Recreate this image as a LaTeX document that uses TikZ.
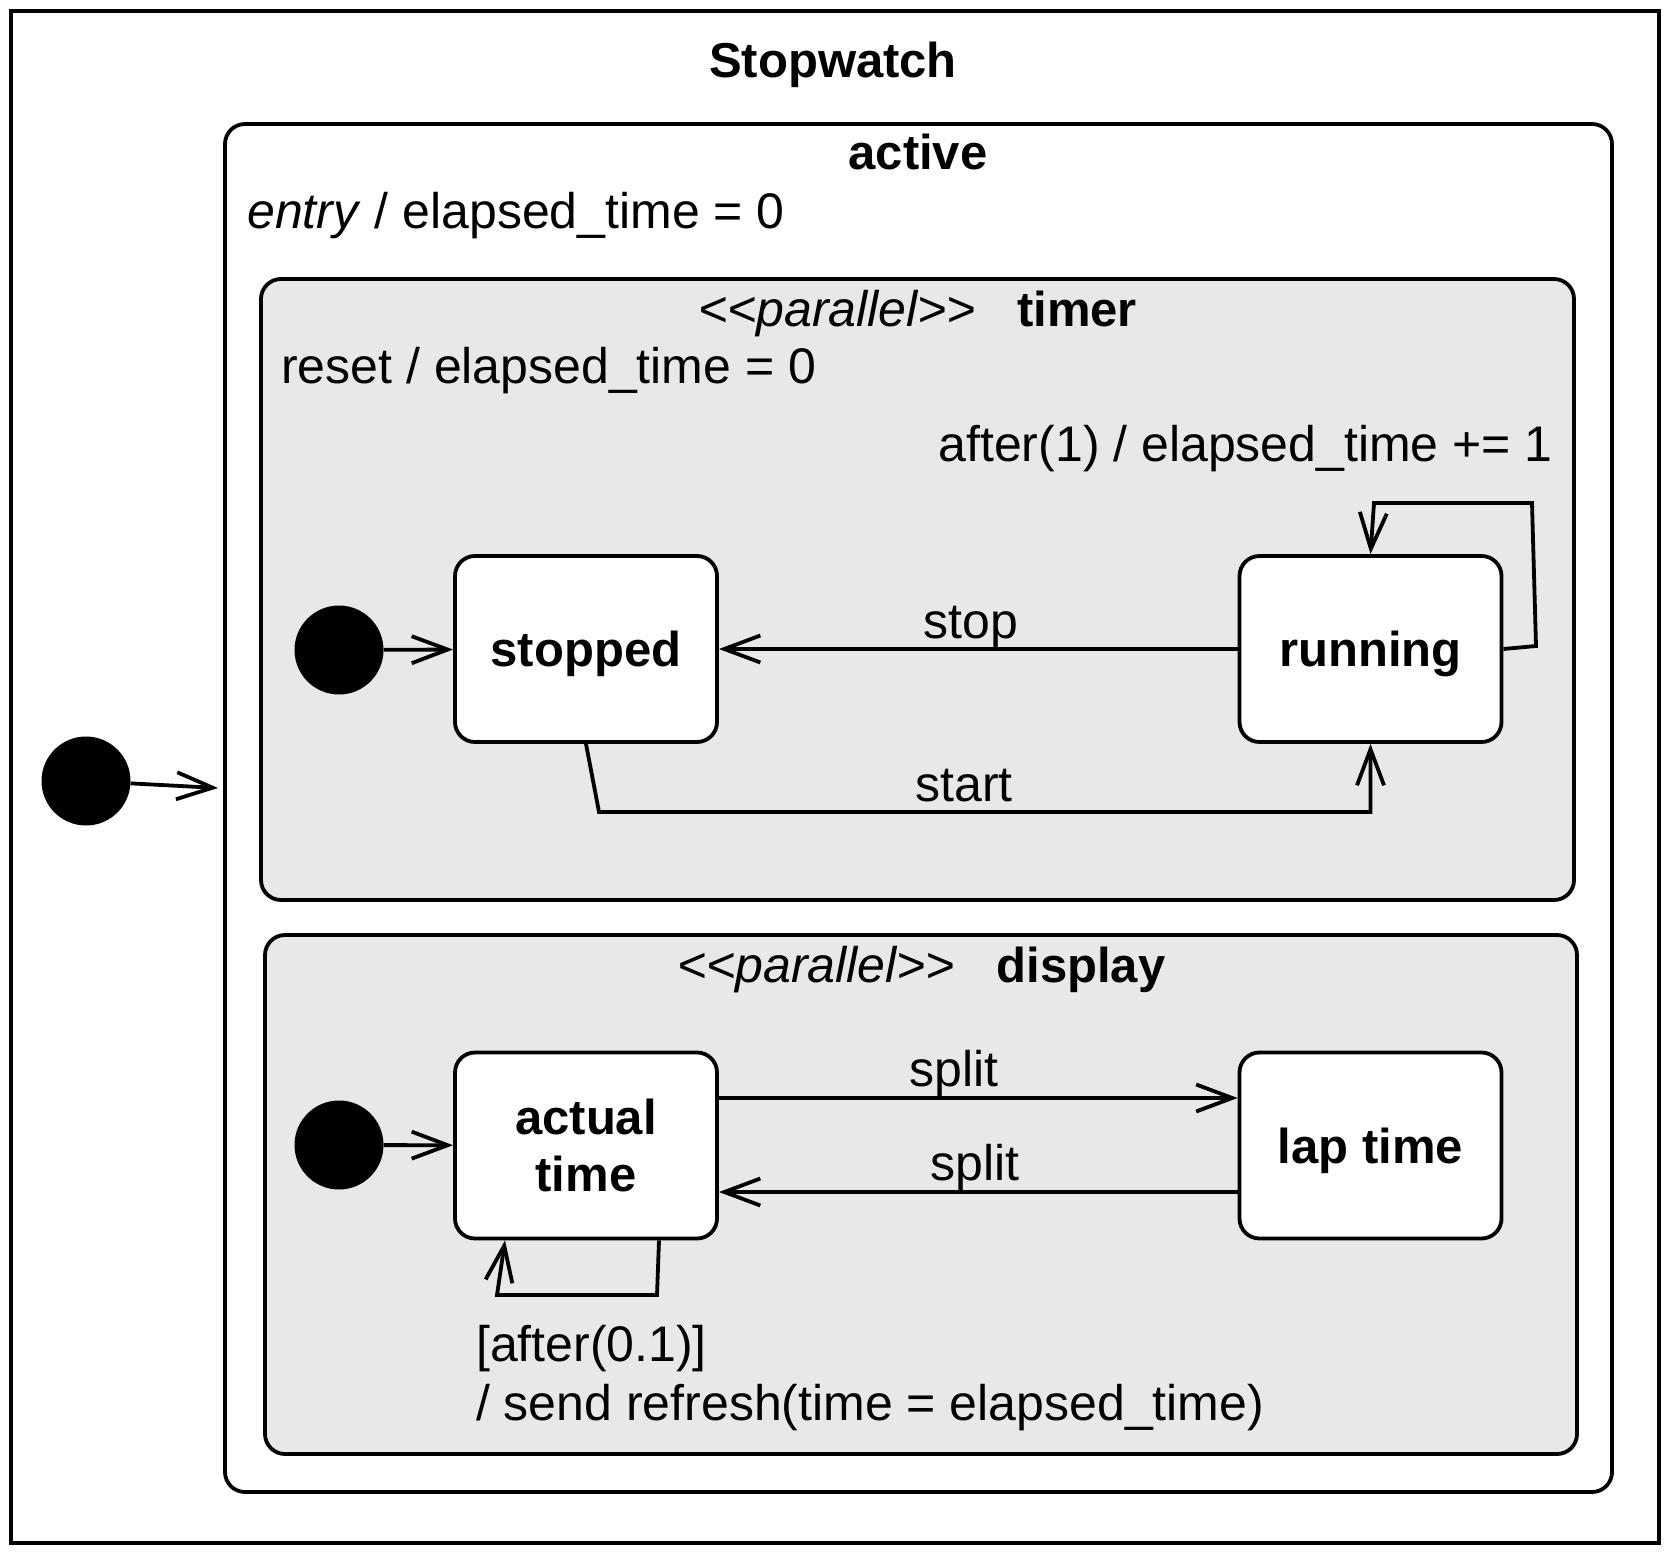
\documentclass[tikz,border=0pt]{standalone}
\usepackage{fontspec}
\setmainfont{Liberation Sans}
\usetikzlibrary{arrows.meta,calc}
\definecolor{regfill}{HTML}{E8E8E8}
\begin{document}
\begin{tikzpicture}[x=1pt,y=-1pt,
  every node/.style={font=\fontsize{50}{57}\selectfont, inner sep=0pt},
  ln/.style={line width=3.8pt},
  arr/.style={ln, -{Straight Barb[length=36pt,width=27pt,line width=3.8pt]}},
  region/.style={draw, fill=regfill, rounded corners=20pt, line width=3.8pt},
  state/.style={draw, fill=white, rounded corners=20pt, line width=3.8pt,
     minimum width=262pt, minimum height=186pt, font=\fontsize{49}{57}\selectfont\bfseries},
  initdot/.style={circle, fill=black, minimum size=89pt},
  lbl/.style={anchor=base}]
\useasboundingbox (0,0) rectangle (1670,1554);
\fill[white] (0,0) rectangle (1670,1554);
% frame
\node[draw, line width=3.8pt, minimum width=1648pt, minimum height=1532pt] (frame) at (835,777) {};
\node[lbl, font=\fontsize{49}{57}\selectfont\bfseries] (title) at (833,78) {Stopwatch};
% active
\node[draw, fill=white, rounded corners=20pt, line width=3.8pt, minimum width=1387pt, minimum height=1368pt] (active) at (918.5,808) {};
\node[lbl, font=\fontsize{49}{57}\selectfont\bfseries] (activet) at (918,170) {active};
\node[anchor=base west] (entry) at (247,229) {\textit{entry} / elapsed\_time = 0};
% outer initial
\node[initdot] (i0) at (86,781) {};
\coordinate (i0end) at (218,788);
\draw[arr] (i0) -- (i0end);
% timer region
\node[region, minimum width=1313pt, minimum height=621pt] (timer) at (917.5,589.5) {};
\node[lbl] (tpar) at (837,326) {\textit{<\kern0pt<parallel>\kern0pt>}};
\node[lbl, font=\fontsize{49}{57}\selectfont\bfseries] (tname) at (1077,326) {timer};
\node[anchor=base west] (reset) at (281,383) {reset / elapsed\_time = 0};
\node[anchor=base east] (afterlbl) at (1553,461) {after(1) / elapsed\_time += 1};
\node[initdot] (i1) at (339,650) {};
\node[state, text height=35pt, text depth=0pt] (stopped) at (586,649) {stopped};
\node[state, text height=35pt, text depth=0pt] (running) at (1370.5,649) {running};
\draw[arr] (i1) -- (stopped);
\draw[arr] (running) -- (stopped);
\node[lbl] (stoplbl) at (971,638) {stop};
\coordinate (s1) at (599,812);
\coordinate (s2) at (1370.5,812);
\draw[arr] (stopped.south) -- (s1) -- (s2) -- (running.south);
\node[lbl] (startlbl) at (964,801) {start};
\coordinate (r1) at (1536,646);
\coordinate (r2) at (1532,503);
\coordinate (r3) at (1374,503);
\draw[arr] (running.east) -- (r1) -- (r2) -- (r3) -- (running.north);
% display region
\node[region, minimum width=1312pt, minimum height=519pt] (display) at (921,1194.5) {};
\node[lbl] (dpar) at (816,982) {\textit{<\kern0pt<parallel>\kern0pt>}};
\node[lbl, font=\fontsize{49}{57}\selectfont\bfseries] (dname) at (1081,982) {display};
\node[initdot] (i2) at (339,1145) {};
\node[state, align=center, text height=92pt, text depth=0pt] (actual) at (586,1145.5) {actual\\time};
\node[state, text height=35pt, text depth=0pt] (lap) at (1370.5,1145.5) {lap time};
\draw[arr] (i2) -- (actual);
\draw[arr] ($(actual.east)+(0,-47.5)$) -- ($(lap.west)+(0,-47.5)$);
\draw[arr] ($(lap.west)+(0,46.5)$) -- ($(actual.east)+(0,46.5)$);
\node[lbl] (split1) at (954,1086) {split};
\node[lbl] (split2) at (975,1180) {split};
\coordinate (a1) at (657,1295);
\coordinate (a2) at (497,1295);
\draw[arr] ($(actual.south)+(73,0)$) -- (a1) -- (a2) -- ($(actual.south)+(-81,0)$);
\node[anchor=base west] (aft1) at (476,1361) {[after(0.1)]};
\node[anchor=base west] (aft2) at (476,1420) {/ send refresh(time = elapsed\_time)};
\end{tikzpicture}
\end{document}
